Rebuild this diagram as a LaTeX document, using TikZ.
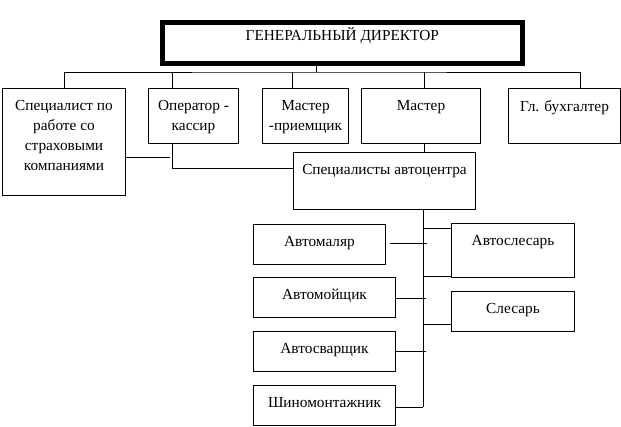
\documentclass[tikz,border=0pt]{standalone}
\usepackage{fontspec}
\setmainfont{Liberation Serif}
\begin{document}
\begin{tikzpicture}[x=0.75pt,y=-0.75pt,
  bx/.style={draw,line width=0.75pt,anchor=north west,inner sep=0pt},
  tx/.style={anchor=north,align=center,inner sep=0pt,font=\fontsize{11.5}{15}\selectfont},
  ln/.style={line width=0.75pt}]
\useasboundingbox (0,0) rectangle (621,426);
\newcommand{\mybox}[6]{\node[bx,minimum width=#3*0.75pt,minimum height=#4*0.75pt] (#5) at (#1,#2) {};
  \node[tx] (#5t) at ([yshift=-9pt]#5.north) {#6};}
\node[draw,line width=3.5pt,anchor=north west,minimum width=360*0.75pt,minimum height=41*0.75pt,inner sep=0pt] (gd) at (160,20) {};
\node[tx,anchor=center] (gdt) at ([yshift=-12pt]gd.north) {ГЕНЕРАЛЬНЫЙ ДИРЕКТОР};
\mybox{2}{88}{123}{107}{sp}{Специалист по\\работе со\\страховыми\\компаниями}
\mybox{148}{88}{90}{55}{op}{Оператор -\\кассир}
\mybox{262}{88}{86}{55}{mp}{Мастер\\-приемщик}
\mybox{361}{88}{119}{55}{ma}{Мастер}
\mybox{508}{88}{112}{55}{gb}{Гл. бухгалтер}
\mybox{293}{152}{182}{57}{sa}{Специалисты автоцентра}
\mybox{253}{224}{132}{40}{am}{Автомаляр}
\mybox{451}{223}{123}{54}{as}{Автослесарь}
\mybox{253}{277}{142}{40}{aw}{Автомойщик}
\mybox{451}{291}{123}{40}{sl}{Слесарь}
\mybox{253}{331}{142}{40}{av}{Автосварщик}
\mybox{253}{385}{142}{40}{sh}{Шиномонтажник}
\coordinate (b) at (316,72);
\draw[ln] (gd.south -| b) -- (b);
\draw[ln] (sp.north -| 64,0) |- (b) -| (gb.north -| 580,0);
\draw[ln] (op.north -| 172,0) -- (172,72);
\draw[ln] (mp.north -| 292,0) -- (292,72);
\draw[ln] (ma.north -| 424,0) -- (424,72);
\draw[ln] (ma.south -| 424,0) -- (sa.north -| 424,0);
\draw[ln] (sp.east |- 0,157) -- (170,157);
\draw[ln] (op.south -| 172,0) -- (172,168) -- (sa.west |- 0,168);
\draw[ln] (sa.south -| 423,0) -- (423,407);
\draw[ln] (390,243) -- (427,243);
\draw[ln] (423,228) -- (as.west |- 0,228);
\draw[ln] (423,276) -- (as.west |- 0,276);
\draw[ln] (aw.east |- 0,298) -- (426,298);
\draw[ln] (423,324) -- (sl.west |- 0,324);
\draw[ln] (av.east |- 0,351) -- (426,351);
\draw[ln] (sh.east |- 0,407) -- (423,407);
\end{tikzpicture}
\end{document}
